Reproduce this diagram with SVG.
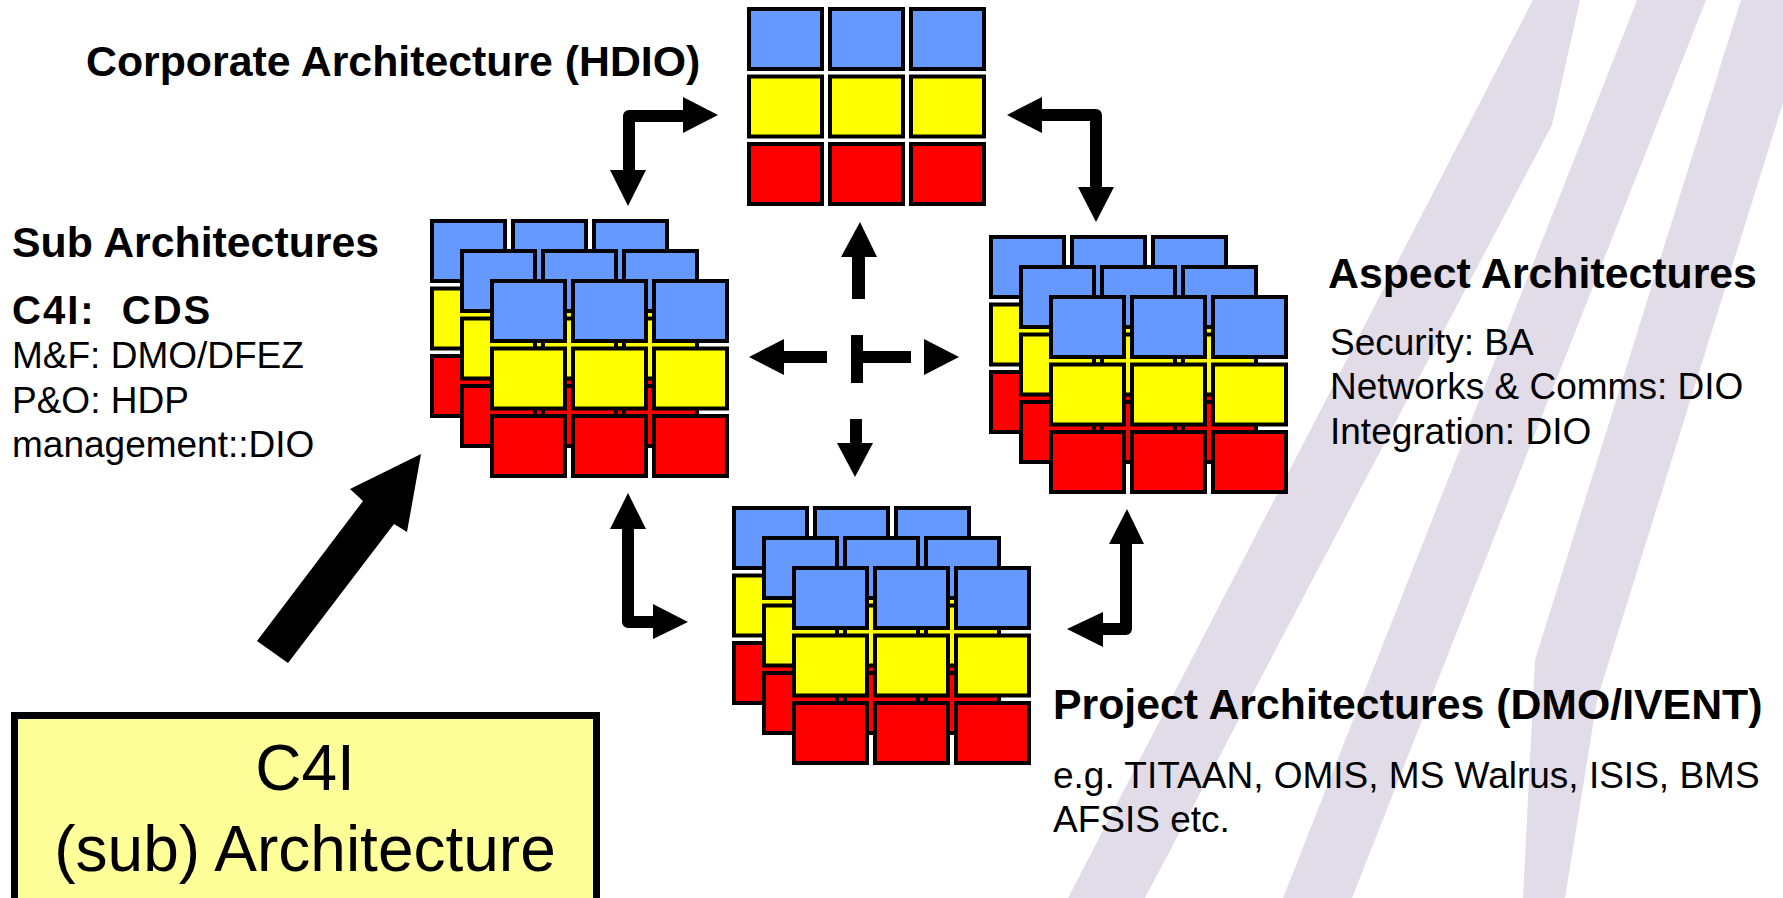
<svg xmlns="http://www.w3.org/2000/svg" width="1783" height="898" viewBox="0 0 1783 898">
<style>
.b{fill:#6699FF;stroke:#000;stroke-width:4}
.y{fill:#FFFF00;stroke:#000;stroke-width:4}
.r{fill:#FF0000;stroke:#000;stroke-width:4}
.stripe{fill:#E1DCE7}
.shaft{fill:none;stroke:#000;stroke-width:12;stroke-linejoin:round}
.head{fill:#000}
.t{font-family:"Liberation Sans",Arial,sans-serif;fill:#000}
.h{font-size:42.8px;font-weight:bold}
.n{font-size:37px}
</style>
<defs>
<g id="grid">
<rect class="b" x="2" y="2" width="73" height="60"/>
<rect class="b" x="83" y="2" width="73" height="60"/>
<rect class="b" x="164" y="2" width="73" height="60"/>
<rect class="y" x="2" y="69.5" width="73" height="60"/>
<rect class="y" x="83" y="69.5" width="73" height="60"/>
<rect class="y" x="164" y="69.5" width="73" height="60"/>
<rect class="r" x="2" y="137" width="73" height="60"/>
<rect class="r" x="83" y="137" width="73" height="60"/>
<rect class="r" x="164" y="137" width="73" height="60"/>
</g>
</defs>
<rect width="1783" height="898" fill="#fff"/>
<g id="background">
<polygon class="stripe" points="1533,0 1580,0 1552,125 1145,898 1068,898"/>
<polygon class="stripe" points="1637,0 1706,0 1352,898 1283,898"/>
<polygon class="stripe" points="1741,0 1815,0 1597,700 1565,898 1523,898 1535,660"/>
</g>
<g id="corporate">
<use href="#grid" x="747" y="7"/>
<text class="t h" x="86" y="76">Corporate Architecture (HDIO)</text>
</g>
<g id="sub">
<use href="#grid" x="430" y="219"/>
<use href="#grid" x="460" y="249"/>
<use href="#grid" x="490" y="279"/>
<text class="t h" x="12" y="257">Sub Architectures</text>
<text class="t" x="12" y="324" font-size="40" font-weight="bold" letter-spacing="2" xml:space="preserve">C4I:  CDS</text>
<text class="t n" x="12" y="368">M&amp;F: DMO/DFEZ</text>
<text class="t n" x="12" y="413">P&amp;O: HDP</text>
<text class="t n" x="12" y="457">management::DIO</text>
</g>
<g id="aspect">
<use href="#grid" x="989" y="235"/>
<use href="#grid" x="1019" y="265"/>
<use href="#grid" x="1049" y="295"/>
<text class="t h" x="1328" y="288">Aspect Architectures</text>
<text class="t n" x="1330" y="355">Security: BA</text>
<text class="t n" x="1330" y="399">Networks &amp; Comms: DIO</text>
<text class="t n" x="1330" y="444">Integration: DIO</text>
</g>
<g id="project">
<use href="#grid" x="732" y="506"/>
<use href="#grid" x="762" y="536"/>
<use href="#grid" x="792" y="566"/>
<text class="t h" x="1053" y="719">Project Architectures (DMO/IVENT)</text>
<text class="t n" x="1053" y="788">e.g. TITAAN, OMIS, MS Walrus, ISIS, BMS</text>
<text class="t n" x="1053" y="832">AFSIS etc.</text>
</g>
<g id="c4i">
<rect x="14.5" y="715.5" width="582" height="190" fill="#FFFF99" stroke="#000" stroke-width="7"/>
<text class="t" x="305" y="790" font-size="64" text-anchor="middle">C4I</text>
<text class="t" x="305" y="871" font-size="64" text-anchor="middle">(sub) Architecture</text>
</g>
<g id="connectors">
<path class="shaft" d="M629 172 L629 116 L686 116"/>
<polygon class="head" points="683,97 718,115 683,133"/>
<polygon class="head" points="610,170 646,170 628,206"/>
<path class="shaft" d="M1040 115 L1096 115 L1096 189"/>
<polygon class="head" points="1042,97 1007,115 1042,133"/>
<polygon class="head" points="1078,187 1114,187 1096,222"/>
<path class="shaft" d="M628 527 L628 622 L655 622"/>
<polygon class="head" points="610,529 628,493 646,529"/>
<polygon class="head" points="653,604 688,622 653,639"/>
<path class="shaft" d="M1126 542 L1126 629 L1101 629"/>
<polygon class="head" points="1109,544 1127,509 1144,544"/>
<polygon class="head" points="1103,612 1067,629 1103,647"/>
<polygon class="head" points="841,257 860,222 877,257"/>
<rect class="head" x="852" y="255" width="13" height="44"/>
<polygon class="head" points="784,339 749,357 784,375"/>
<rect class="head" x="782" y="351" width="45" height="12"/>
<rect class="head" x="851" y="335" width="12" height="48"/>
<rect class="head" x="862" y="351" width="49" height="12"/>
<polygon class="head" points="924,339 959,357 924,375"/>
<rect class="head" x="850" y="419" width="12" height="26"/>
<polygon class="head" points="837,443 873,443 855,477"/>
<polygon class="head" points="421,454 407,532 394,524 288,663 257,641 363,501 350,489"/>
</g>
</svg>
